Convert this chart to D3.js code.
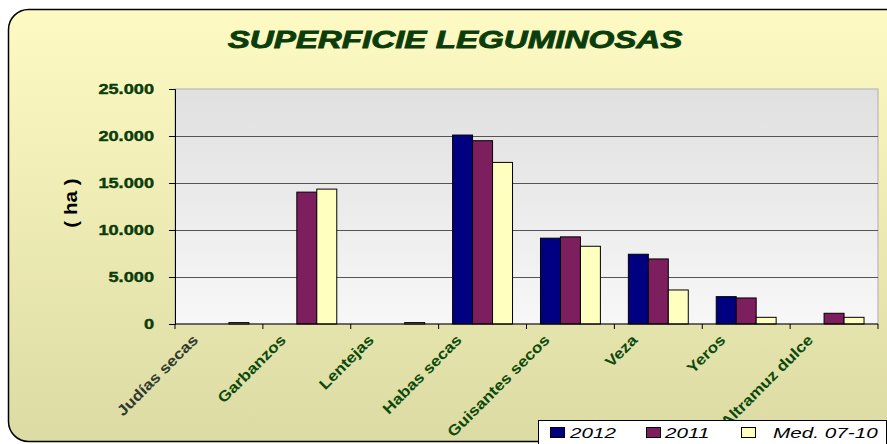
<!DOCTYPE html>
<html><head><meta charset="utf-8">
<script src="https://cdn.jsdelivr.net/npm/d3@7"></script>
<style>html,body{margin:0;padding:0;overflow:hidden;background:#fff}</style>
</head><body>
<svg id="c" width="887" height="444"></svg>
<script>
const categories = ["Judías secas","Garbanzos","Lentejas","Habas secas","Guisantes secos","Veza","Yeros","Altramuz dulce"];
const seriesNames = ["2012","2011","Med. 07-10"];
const v2012 = [0, 0, 0, 20100, 9130, 7420, 2910, 0];
const v2011 = [0, 14030, 0, 19500, 9270, 6920, 2770, 1140];
const vMed  = [150, 14350, 150, 17190, 8270, 3620, 710, 710];
const yTicks = [0, 5000, 10000, 15000, 20000, 25000];
const seriesColors = ["#000080", "#7D1E5E", "#FFFFC0"];
const titleText = "SUPERFICIE LEGUMINOSAS";
const yLabel = "( ha )";

const svg = d3.select("#c");
const defs = svg.append("defs");
const bg = defs.append("linearGradient").attr("id","bg").attr("x1",0).attr("y1",0).attr("x2",0).attr("y2",1);
bg.append("stop").attr("offset","0%").attr("stop-color","#FDFBC3");
bg.append("stop").attr("offset","100%").attr("stop-color","#DDDBA4");
const pg = defs.append("linearGradient").attr("id","pg").attr("x1",0).attr("y1",0).attr("x2",0).attr("y2",1);
pg.append("stop").attr("offset","0%").attr("stop-color","#E0E0E0");
pg.append("stop").attr("offset","100%").attr("stop-color","#F7F7F7");

svg.append("rect").attr("x",8.5).attr("y",9.5).attr("width",900).attr("height",432)
  .attr("rx",20).attr("ry",20).attr("fill","url(#bg)").attr("stroke","#000").attr("stroke-width",1.5);

const m = {left:175, right:878, top:89, bottom:324};
const x0 = d3.scaleBand().domain(categories).range([m.left, m.right]).padding(0);
const x1 = d3.scaleBand().domain(seriesNames).range([0, x0.bandwidth()]).paddingInner(0).paddingOuter(0.7);
const y = d3.scaleLinear().domain([0, 25000]).range([m.bottom, m.top]);

svg.append("rect").attr("x",m.left).attr("y",m.top).attr("width",m.right-m.left).attr("height",m.bottom-m.top)
  .attr("fill","url(#pg)").attr("stroke","#B8B8B8").attr("stroke-width",1.2);

// gridlines
svg.append("g").selectAll("line").data(yTicks.filter(d=>d>0 && d<25000)).join("line")
  .attr("x1",m.left).attr("x2",m.right).attr("y1",d=>Math.round(y(d))+0.5).attr("y2",d=>Math.round(y(d))+0.5)
  .attr("stroke","#555").attr("stroke-width",1);

// bars
const data = [v2012, v2011, vMed];
const gBars = svg.append("g");
categories.forEach((c,i)=>{
  seriesNames.forEach((s,j)=>{
    const v = data[j][i];
    if (v <= 0) return;
    gBars.append("rect")
      .attr("x", x0(c)+x1(s)).attr("y", y(v))
      .attr("width", x1.bandwidth()).attr("height", y(0)-y(v))
      .attr("fill", seriesColors[j]).attr("stroke","#000").attr("stroke-width",1);
  });
});

// y axis
const yAxis = d3.axisLeft(y).tickValues(yTicks).tickSize(6).tickFormat(()=>"");
const gy = svg.append("g").attr("transform",`translate(${m.left},0)`).call(yAxis);
gy.selectAll("path,line").attr("stroke","#000");
const fmt = d => d3.format(",")(d).replace(/,/g,".");
svg.append("g").selectAll("text").data(yTicks).join("text")
  .attr("transform", d=>`translate(154,${y(d)+5}) scale(1.3,1)`)
  .attr("text-anchor","end").attr("font-family","Liberation Sans, Arial, sans-serif")
  .attr("font-weight","bold").attr("font-size",14).attr("fill","#0B3D0B")
  .attr("stroke","#0B3D0B").attr("stroke-width",0.4).text(fmt);

// x axis
const xAxis = d3.axisBottom(x0).tickSize(5).tickFormat(()=>"");
const gx = svg.append("g").attr("transform",`translate(0,${m.bottom})`).call(xAxis);
gx.selectAll(".tick").remove();
gx.select("path").attr("stroke","#000").attr("d",`M${m.left},0H${m.right}`);
const bounds = categories.map(c=>x0(c)).concat([m.right]);
gx.selectAll("line.b").data(bounds).join("line").attr("class","b")
  .attr("x1",d=>d).attr("x2",d=>d).attr("y1",0).attr("y2",5).attr("stroke","#000");

svg.append("g").selectAll("text").data(categories).join("text")
  .attr("transform", d=>`translate(${x0(d)+x0.bandwidth()/2-20},${341}) rotate(-45) scale(1.15,1)`)
  .attr("text-anchor","end").attr("font-family","Liberation Sans, Arial, sans-serif")
  .attr("font-weight","bold").attr("font-size",15)
  .attr("fill",(d,i)=> i===0 ? "#2E3A2E" : "#0B4A0B").text(d=>d);

// y label
svg.append("text").attr("transform","translate(77,203) rotate(-90) scale(1.15,1)")
  .attr("text-anchor","middle").attr("font-family","Liberation Sans, Arial, sans-serif")
  .attr("font-weight","bold").attr("font-size",18).attr("fill","#000").text(yLabel);

// title
const t = svg.append("text").attr("font-family","Liberation Sans, Arial, sans-serif")
  .attr("font-weight","bold").attr("font-style","italic").attr("font-size",23)
  .attr("fill","#0B3D0B").attr("stroke","#0B3D0B").attr("stroke-width",0.8)
  .attr("text-anchor","middle").text(titleText);
const tw = t.node().getComputedTextLength();
t.attr("transform",`translate(455,48) scale(${455/tw},1)`);

// legend
const lg = svg.append("g");
lg.append("rect").attr("x",538.5).attr("y",420.5).attr("width",348).attr("height",30)
  .attr("fill","#fff").attr("stroke","#000").attr("stroke-width",1);
const lx = [550, 646, 741];
const tx = [570, 665, 773];
seriesNames.forEach((s,j)=>{
  lg.append("rect").attr("x",lx[j]+0.5).attr("y",427.5).attr("width",14).attr("height",10)
    .attr("fill",seriesColors[j]).attr("stroke","#000").attr("stroke-width",1);
  lg.append("text").attr("transform",`translate(${tx[j]},438) scale(1.38,1)`)
    .attr("font-family","Liberation Sans, Arial, sans-serif").attr("font-style","italic")
    .attr("font-size",15).attr("fill","#000").text(s);
});
</script>
</body></html>
